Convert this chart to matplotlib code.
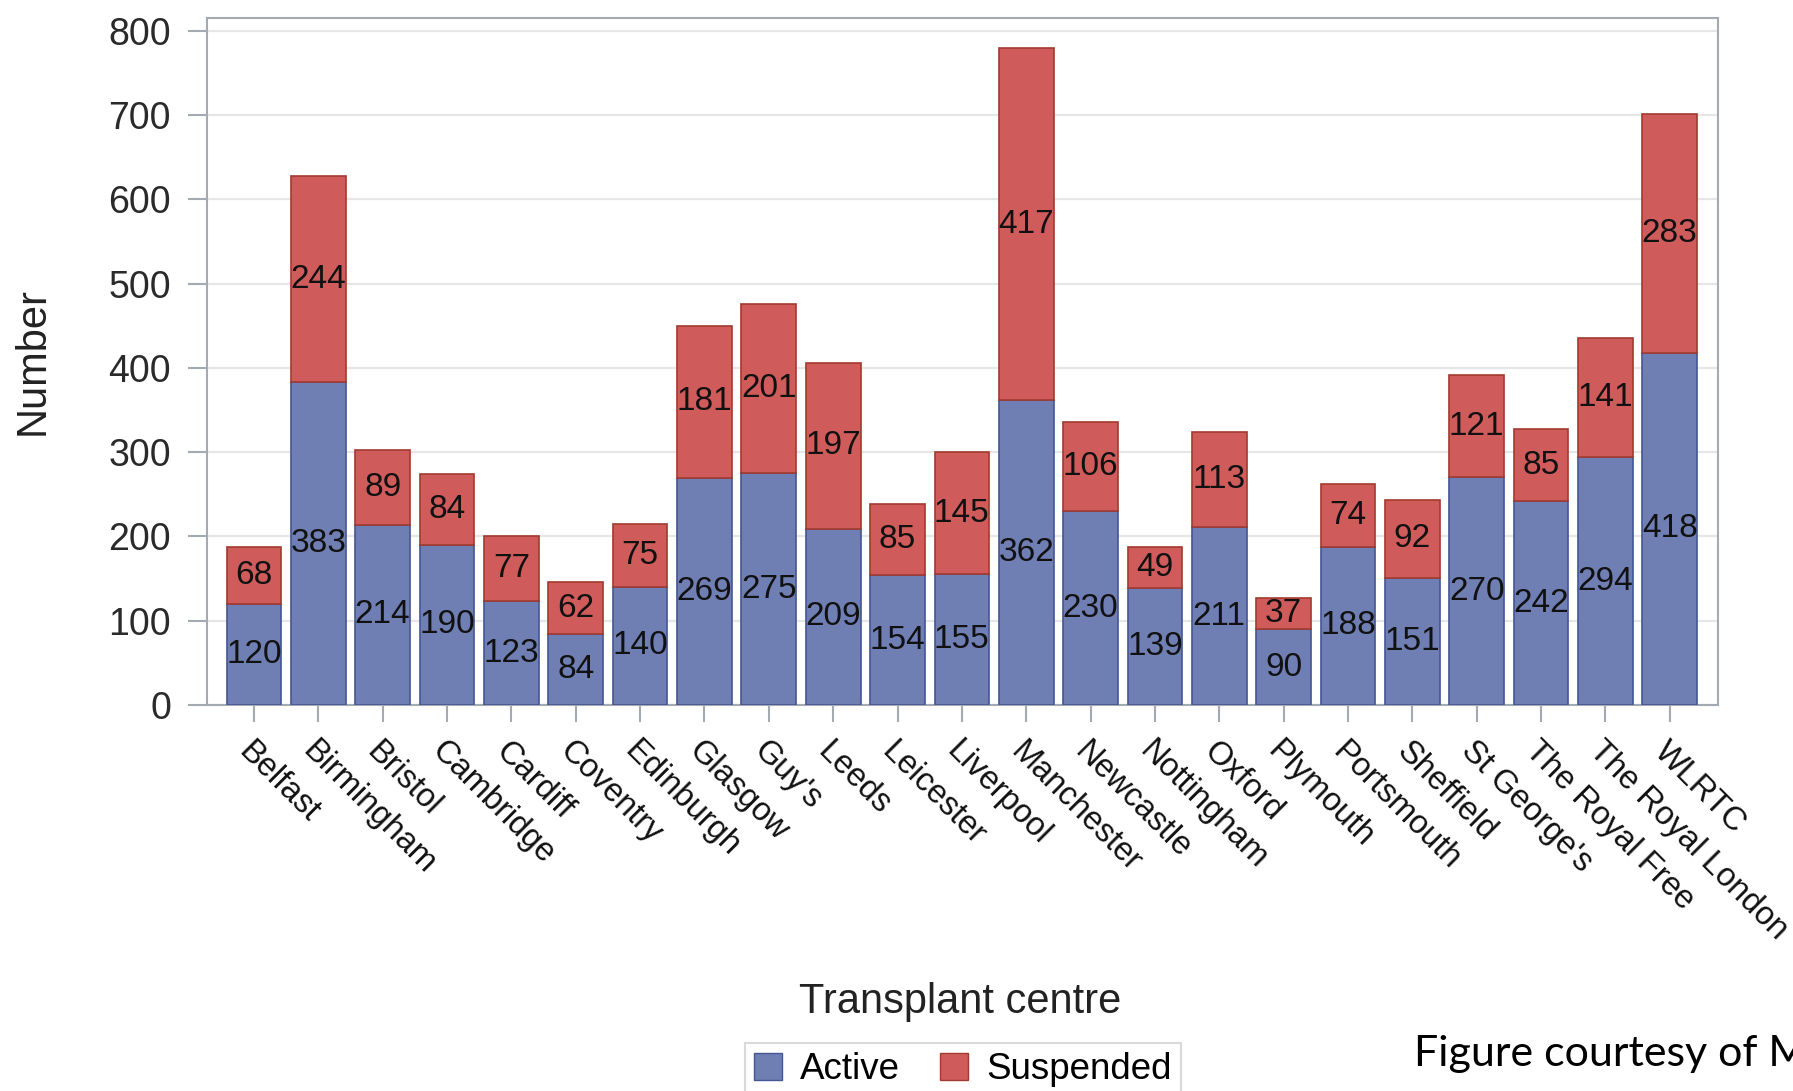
import matplotlib
matplotlib.use("Agg")
import matplotlib.pyplot as plt
import numpy as np
from matplotlib.patches import Patch

centres = ["Belfast", "Birmingham", "Bristol", "Cambridge", "Cardiff", "Coventry",
           "Edinburgh", "Glasgow", "Guy's", "Leeds", "Leicester", "Liverpool",
           "Manchester", "Newcastle", "Nottingham", "Oxford", "Plymouth",
           "Portsmouth", "Sheffield", "St George's", "The Royal Free",
           "The Royal London", "WLRTC"]
active = [120, 383, 214, 190, 123, 84, 140, 269, 275, 209, 154, 155, 362, 230,
          139, 211, 90, 188, 151, 270, 242, 294, 418]
suspended = [68, 244, 89, 84, 77, 62, 75, 181, 201, 197, 85, 145, 417, 106,
             49, 113, 37, 74, 92, 121, 85, 141, 283]
yticks = [0, 100, 200, 300, 400, 500, 600, 700, 800]

FONT = "Liberation Sans"
plt.rcParams["font.family"] = [FONT, "DejaVu Sans"]

BLUE, BLUE_E = "#6F7EB3", "#445694"
RED, RED_E = "#D05B5B", "#A23A2E"
FRAME = "#A3AAB2"

fig = plt.figure(figsize=(17.93, 10.91), dpi=100)
ax = fig.add_axes([207/1793, 1-705/1091, (1718-207)/1793, (705-18)/1091])

x = np.arange(len(centres))
w = 0.85
ax.bar(x, active, width=w, color=BLUE, edgecolor=BLUE_E, linewidth=1.2, zorder=3)
ax.bar(x, suspended, width=w, bottom=active, color=RED, edgecolor=RED_E,
       linewidth=1.2, zorder=3)

for xi, a, s in zip(x, active, suspended):
    ax.text(xi, a/2, str(a), ha="center", va="center", fontsize=24,
            color="#111111", zorder=4)
    ax.text(xi, a + s/2, str(s), ha="center", va="center", fontsize=24,
            color="#111111", zorder=4)

ax.set_xlim(-0.73, len(centres) - 1 + 0.75)
ax.set_ylim(0, 815)
ax.set_yticks(yticks)
ax.set_yticklabels([str(v) for v in yticks], fontsize=27, color="#2a2a2a")
ax.set_xticks(x)
ax.set_xticklabels(centres, rotation=-45, ha="left", va="top",
                   rotation_mode="anchor", fontsize=23.5, color="#111111")
ax.tick_params(axis="y", length=14, width=1.5, color=FRAME, pad=12)
ax.tick_params(axis="x", length=12, width=1.5, color=FRAME, pad=10)
ax.grid(axis="y", color="#E6E6E6", linewidth=1.6, zorder=0)
ax.set_axisbelow(True)
for sp in ax.spines.values():
    sp.set_color(FRAME)
    sp.set_linewidth(1.5)

fig.text(33/1793, 1-361/1091, "Number", rotation=90, ha="center", va="center",
         fontsize=30, color="#222222")
fig.text(960/1793, 1-1002/1091, "Transplant centre", ha="center", va="center",
         fontsize=30, color="#222222")

handles = [Patch(facecolor=BLUE, edgecolor=BLUE_E, label="Active"),
           Patch(facecolor=RED, edgecolor=RED_E, label="Suspended")]
leg = fig.legend(handles=handles, loc="upper center", ncol=2,
                 bbox_to_anchor=(963/1793, 1-1043/1091), fontsize=26.5,
                 frameon=True, fancybox=False, edgecolor="#D0D0D0",
                 handlelength=0.75, handleheight=0.75, handletextpad=0.5,
                 columnspacing=1.1, borderpad=0.25, borderaxespad=0)
leg.get_frame().set_linewidth(1.5)

fig.text(1414/1793, 1-1066/1091, "Figure courtesy of M", ha="left",
         va="baseline", fontsize=31, family=["Lato", "DejaVu Sans"], color="black")

fig.savefig("out.png", dpi=100)
